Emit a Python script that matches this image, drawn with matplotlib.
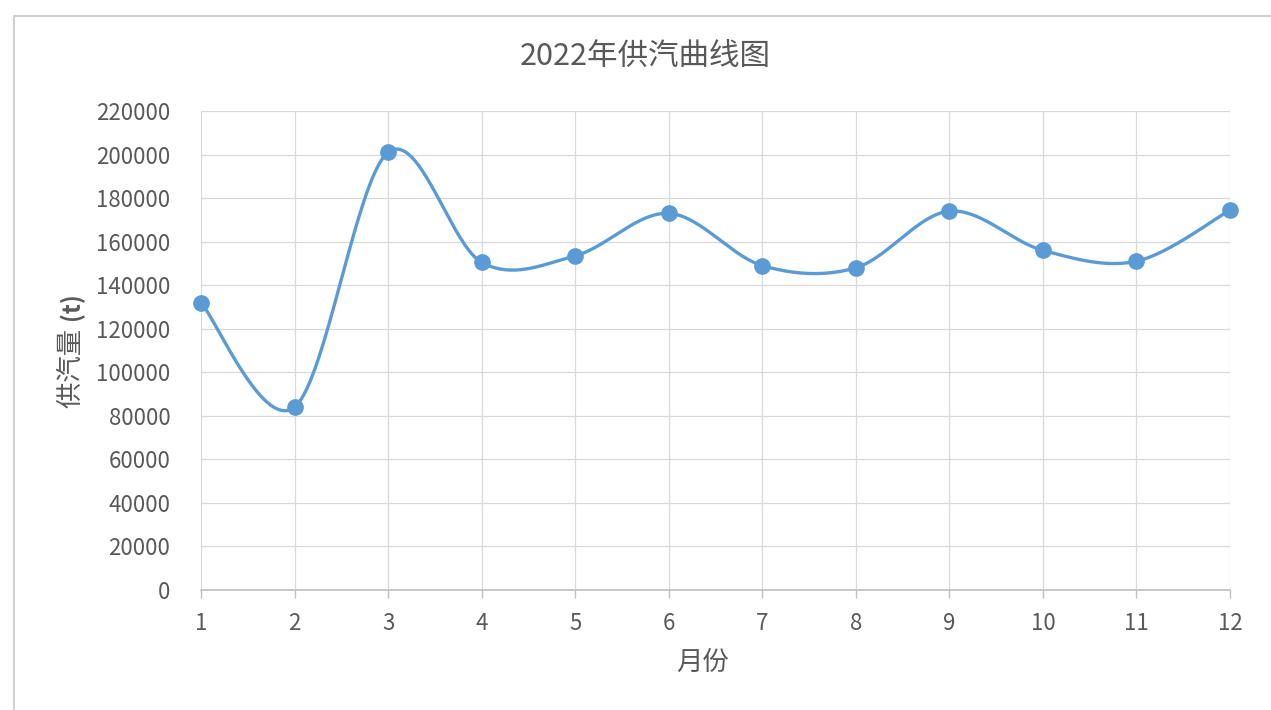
import numpy as np
import matplotlib
matplotlib.use('Agg')
import matplotlib.pyplot as plt
from matplotlib.patches import Rectangle

plt.rcParams['font.family'] = ['Noto Sans CJK SC', 'DejaVu Sans']

# Monthly steam supply, 2022
months = [1, 2, 3, 4, 5, 6, 7, 8, 9, 10, 11, 12]
supply = [132000, 84000, 201000, 150500, 153500, 173000, 149000, 148000, 174000, 156000, 151000, 174500]
y_ticks = list(range(0, 220001, 20000))

title = '2022年供汽曲线图'
x_label = '月份'
y_label_text = '供汽量 '
y_label_unit = '(t)'

line_color = '#5B9BD5'
text_color = '#595959'
grid_color = '#D9D9D9'


def smooth_curve(x, y, steps=40):
    # Bezier smoothing with neighbour-based control points (spreadsheet style)
    x = np.asarray(x, float)
    y = np.asarray(y, float)
    px = np.concatenate([[x[0]], x, [x[-1]]])
    py = np.concatenate([[y[0]], y, [y[-1]]])
    xs, ys = [], []
    t = np.linspace(0, 1, steps)
    for i in range(len(x) - 1):
        p0 = np.array([px[i + 1], py[i + 1]])
        p3 = np.array([px[i + 2], py[i + 2]])
        c1 = p0 + (np.array([px[i + 2], py[i + 2]]) - np.array([px[i], py[i]])) / 6
        c2 = p3 - (np.array([px[i + 3], py[i + 3]]) - np.array([px[i + 1], py[i + 1]])) / 6
        b = ((1 - t) ** 3)[:, None] * p0 + (3 * (1 - t) ** 2 * t)[:, None] * c1 \
            + (3 * (1 - t) * t ** 2)[:, None] * c2 + (t ** 3)[:, None] * p3
        xs.extend(b[:, 0])
        ys.extend(b[:, 1])
    return np.array(xs), np.array(ys)


W, H = 1271, 710
fig = plt.figure(figsize=(W / 100, H / 100), dpi=100)
fig.patches.append(Rectangle((13.5 / W, -0.01), 1.0, 1 - 15.5 / H + 0.01, transform=fig.transFigure,
                             fill=False, edgecolor='#D0D0D0', linewidth=1.5))

ax = fig.add_axes([201 / W, 1 - 590 / H, (1230 - 201) / W, (590 - 111) / H])

sx, sy = smooth_curve(months, supply)
ax.plot(sx, sy, color=line_color, linewidth=2.4, solid_capstyle='round', zorder=3, clip_on=False)
ax.plot(months, supply, 'o', color=line_color, markersize=11, zorder=4, clip_on=False)

ax.set_xlim(1, 12)
ax.set_ylim(0, 220000)
ax.set_xticks(months)
ax.set_yticks(y_ticks)
ax.grid(True, color=grid_color, linewidth=0.9)
ax.set_axisbelow(True)

for side in ['top', 'right', 'left']:
    ax.spines[side].set_visible(False)
ax.spines['bottom'].set_color('#BFBFBF')
ax.spines['bottom'].set_linewidth(1.2)

ax.tick_params(axis='x', colors='#BFBFBF', length=6, width=1, labelcolor=text_color,
               labelsize=16, pad=10)
ax.tick_params(axis='y', length=0, labelcolor=text_color, labelsize=16, pad=22)

# Title and axis titles placed in figure pixels
fig.text(645 / W, 1 - 56 / H, title, color=text_color, fontsize=22, ha='center', va='center')
fig.text(703 / W, 1 - 662 / H, x_label, color=text_color, fontsize=19, ha='center', va='center')
fig.text(71 / W, 1 - 366 / H, y_label_text, color=text_color, fontsize=19, rotation=90,
         ha='center', va='center')
fig.text(71 / W, 1 - 306 / H, y_label_unit, color=text_color, fontsize=17, fontweight='bold',
         rotation=90, ha='center', va='center')

fig.savefig('out.png', dpi=100, facecolor='white')
